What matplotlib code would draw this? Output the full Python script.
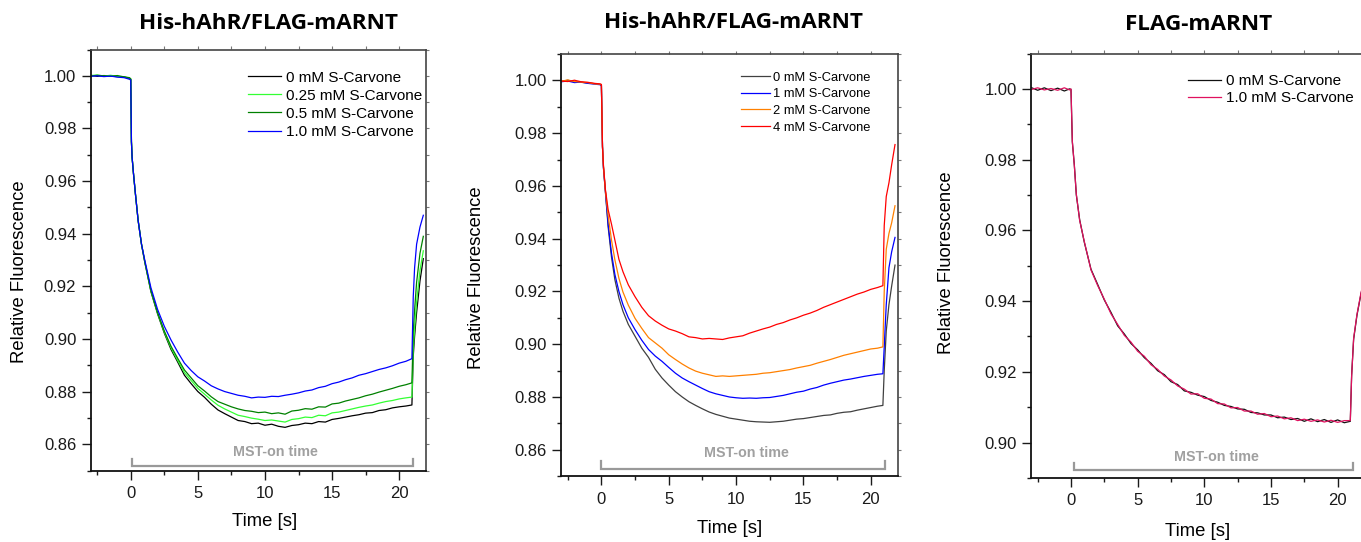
import matplotlib
matplotlib.use('Agg')
import matplotlib.pyplot as plt
from matplotlib.ticker import MultipleLocator, FormatStrFormatter

plt.rcParams['font.family'] = ['Liberation Sans', 'DejaVu Sans']

# ── Panel A: His-hAhR/FLAG-mARNT, 0 - 1.0 mM S-Carvone ──
t_a = [-3.0, -2.5, -2.0, -1.5, -1.0, -0.5, -0.1, 0.0,
       0.05, 0.1, 0.2, 0.35, 0.55, 0.8, 1.05, 1.5,
       2.0, 2.5, 3.0, 3.5, 4.0, 4.5, 5.0, 5.5, 6.0, 6.5,
       7.0, 7.5, 8.0, 8.5, 9.0, 9.5, 10.0, 10.5, 11.0, 11.5,
       12.0, 12.5, 13.0, 13.5, 14.0, 14.5, 15.0, 15.5, 16.0, 16.5,
       17.0, 17.5, 18.0, 18.5, 19.0, 19.5, 20.0, 20.5,
       20.95, 21.05, 21.15, 21.3, 21.55, 21.8]
a_0mM = [1.0002, 0.9998, 1.0001, 0.9999, 0.9997, 0.9996, 0.9990, 0.9987,
         0.975, 0.969, 0.963, 0.955, 0.945, 0.936, 0.9290, 0.9180,
         0.9095, 0.9022, 0.8960, 0.8912, 0.8862, 0.8830, 0.8800, 0.8778, 0.8752, 0.8730,
         0.8716, 0.8703, 0.8690, 0.8686, 0.8678, 0.8680, 0.8672, 0.8676, 0.8668, 0.8664,
         0.8671, 0.8674, 0.8680, 0.8678, 0.8686, 0.8684, 0.8694, 0.8698, 0.8703, 0.8708,
         0.8712, 0.8718, 0.8720, 0.8728, 0.8731, 0.8738, 0.8742, 0.8745,
         0.8749, 0.8935, 0.9010, 0.9100, 0.9220, 0.9305]
a_025mM = [1.0001, 1.0003, 0.9999, 1.0002, 0.9998, 0.9995, 0.9992, 0.9988,
           0.975, 0.969, 0.963, 0.955, 0.945, 0.936, 0.9292, 0.9183,
           0.9098, 0.9026, 0.8966, 0.8918, 0.8872, 0.8842, 0.8812, 0.8790, 0.8768, 0.8748,
           0.8734, 0.8722, 0.8710, 0.8705, 0.8699, 0.8695, 0.8690, 0.8692, 0.8688, 0.8684,
           0.8694, 0.8697, 0.8703, 0.8701, 0.8710, 0.8708, 0.8719, 0.8722, 0.8728, 0.8734,
           0.8740, 0.8745, 0.8749, 0.8756, 0.8762, 0.8766, 0.8772, 0.8776,
           0.8779, 0.8960, 0.9040, 0.9140, 0.9260, 0.9335]
a_05mM = [0.9999, 1.0002, 1.0000, 0.9998, 1.0001, 0.9996, 0.9993, 0.9988,
          0.975, 0.969, 0.963, 0.955, 0.945, 0.936, 0.9293, 0.9185,
          0.9100, 0.9030, 0.8972, 0.8926, 0.8882, 0.8852, 0.8822, 0.8802, 0.8780, 0.8762,
          0.8752, 0.8742, 0.8734, 0.8728, 0.8725, 0.8720, 0.8722, 0.8716, 0.8719, 0.8714,
          0.8726, 0.8729, 0.8735, 0.8733, 0.8742, 0.8741, 0.8753, 0.8756, 0.8764, 0.8770,
          0.8776, 0.8784, 0.8790, 0.8798, 0.8805, 0.8812, 0.8820, 0.8826,
          0.8833, 0.9030, 0.9110, 0.9215, 0.9325, 0.9390]
a_1mM = [0.9998, 1.0000, 0.9997, 0.9999, 0.9995, 0.9993, 0.9987, 0.9984,
         0.975, 0.969, 0.963, 0.955, 0.945, 0.936, 0.9298, 0.9195,
         0.9112, 0.9048, 0.8996, 0.8950, 0.8908, 0.8880, 0.8856, 0.8840, 0.8822, 0.8810,
         0.8800, 0.8793, 0.8786, 0.8782, 0.8776, 0.8779, 0.8778, 0.8782, 0.8781, 0.8786,
         0.8790, 0.8795, 0.8802, 0.8806, 0.8815, 0.8820, 0.8830, 0.8836, 0.8845, 0.8852,
         0.8862, 0.8868, 0.8876, 0.8884, 0.8890, 0.8898, 0.8908, 0.8915,
         0.8925, 0.9160, 0.9270, 0.9360, 0.9425, 0.9470]
labels_a = ['0 mM S-Carvone', '0.25 mM S-Carvone', '0.5 mM S-Carvone', '1.0 mM S-Carvone']
colors_a = ['#000000', '#33ff33', '#008000', '#0000ff']

# ── Panel B: His-hAhR/FLAG-mARNT, 0 - 4 mM S-Carvone ──
t_b = [-3.0, -2.5, -2.0, -1.5, -1.0, -0.5, -0.1, 0.0,
       0.08, 0.15, 0.3, 0.5, 0.75, 1.0, 1.3, 1.6,
       2.0, 2.5, 3.0, 3.5, 4.0, 4.5, 5.0, 5.5, 6.0, 6.5,
       7.0, 7.5, 8.0, 8.5, 9.0, 9.5, 10.0, 10.5, 11.0, 11.5,
       12.0, 12.5, 13.0, 13.5, 14.0, 14.5, 15.0, 15.5, 16.0, 16.5,
       17.0, 17.5, 18.0, 18.5, 19.0, 19.5, 20.0, 20.5,
       20.9, 21.0, 21.15, 21.35, 21.55, 21.8]
b_0mM = [0.9996, 1.0001, 0.9995, 0.9993, 0.9990, 0.9988, 0.9985, 0.9982,
         0.975, 0.967, 0.9575, 0.9445, 0.9330, 0.9245, 0.9175, 0.9125,
         0.9075, 0.9030, 0.8985, 0.8950, 0.8905, 0.8872, 0.8845, 0.8820, 0.8800, 0.8782,
         0.8768, 0.8755, 0.8743, 0.8734, 0.8727, 0.8720, 0.8716, 0.8712, 0.8708, 0.8706,
         0.8705, 0.8704, 0.8706, 0.8708, 0.8712, 0.8716, 0.8718, 0.8722, 0.8726, 0.8730,
         0.8732, 0.8738, 0.8742, 0.8744, 0.8750, 0.8755, 0.8760, 0.8765,
         0.8768, 0.8900, 0.9050, 0.9150, 0.9220, 0.9300]
b_1mM = [0.9995, 0.9998, 0.9992, 0.9994, 0.9989, 0.9986, 0.9984, 0.9980,
         0.975, 0.967, 0.9578, 0.9455, 0.9345, 0.9265, 0.9200, 0.9150,
         0.9100, 0.9055, 0.9015, 0.8980, 0.8955, 0.8935, 0.8912, 0.8890, 0.8872, 0.8858,
         0.8845, 0.8832, 0.8820, 0.8812, 0.8806, 0.8800, 0.8797, 0.8795, 0.8796, 0.8795,
         0.8797, 0.8798, 0.8802, 0.8806, 0.8812, 0.8818, 0.8822, 0.8830, 0.8836, 0.8845,
         0.8852, 0.8858, 0.8864, 0.8868, 0.8873, 0.8878, 0.8882, 0.8886,
         0.8888, 0.8990, 0.9150, 0.9290, 0.9350, 0.9405]
b_2mM = [0.9997, 1.0002, 0.9996, 0.9994, 0.9992, 0.9987, 0.9986, 0.9984,
         0.975, 0.9675, 0.958, 0.9488, 0.9395, 0.9320, 0.9250, 0.9198,
         0.9148, 0.9098, 0.9060, 0.9025, 0.9005, 0.8985, 0.8960, 0.8942, 0.8925, 0.8910,
         0.8898, 0.8890, 0.8884, 0.8878, 0.8880, 0.8878, 0.8880, 0.8882, 0.8884, 0.8886,
         0.8890, 0.8892, 0.8896, 0.8900, 0.8904, 0.8910, 0.8915, 0.8920, 0.8928, 0.8935,
         0.8942, 0.8950, 0.8958, 0.8964, 0.8970, 0.8976, 0.8982, 0.8985,
         0.8990, 0.9200, 0.9360, 0.9420, 0.9460, 0.9525]
b_4mM = [0.9998, 0.9996, 1.0001, 0.9995, 0.9993, 0.9989, 0.9987, 0.9985,
         0.975, 0.968, 0.9585, 0.951, 0.9455, 0.9395, 0.9322, 0.9275,
         0.9225, 0.9180, 0.9140, 0.9108, 0.9088, 0.9072, 0.9058, 0.9050, 0.9040, 0.9028,
         0.9025, 0.9020, 0.9022, 0.9020, 0.9018, 0.9024, 0.9028, 0.9032, 0.9042, 0.9050,
         0.9058, 0.9065, 0.9075, 0.9082, 0.9092, 0.9100, 0.9110, 0.9118, 0.9128, 0.9140,
         0.9150, 0.9160, 0.9170, 0.9180, 0.9190, 0.9198, 0.9208, 0.9215,
         0.9222, 0.9450, 0.9560, 0.9612, 0.9680, 0.9757]
labels_b = ['0 mM S-Carvone', '1 mM S-Carvone', '2 mM S-Carvone', '4 mM S-Carvone']
colors_b = ['#404040', '#0000ff', '#ff8000', '#ff0000']

# ── Panel C: FLAG-mARNT only ──
t_c = [-3.0, -2.5, -2.0, -1.5, -1.0, -0.5, -0.1, 0.0,
       0.1, 0.25, 0.4, 0.65, 1.0, 1.5,
       2.0, 2.5, 3.0, 3.5, 4.0, 4.5, 5.0, 5.5, 6.0, 6.5,
       7.0, 7.5, 8.0, 8.5, 9.0, 9.5, 10.0, 10.5, 11.0, 11.5,
       12.0, 12.5, 13.0, 13.5, 14.0, 14.5, 15.0, 15.5, 16.0, 16.5,
       17.0, 17.5, 18.0, 18.5, 19.0, 19.5, 20.0, 20.5,
       20.95, 21.05, 21.2, 21.45, 21.75, 22.0]
c_0mM = [1.0004, 0.9996, 1.0003, 0.9995, 1.0002, 0.9994, 1.0000, 0.9998,
         0.9850, 0.9785, 0.9700, 0.9630, 0.9566, 0.9490,
         0.9447, 0.9403, 0.9368, 0.9330, 0.9307, 0.9280, 0.9262, 0.9240, 0.9224, 0.9203,
         0.9192, 0.9172, 0.9164, 0.9146, 0.9142, 0.9134, 0.9130, 0.9119, 0.9114, 0.9105,
         0.9102, 0.9095, 0.9094, 0.9085, 0.9084, 0.9078, 0.9078, 0.9070, 0.9072, 0.9065,
         0.9068, 0.9060, 0.9067, 0.9059, 0.9065, 0.9057, 0.9064, 0.9056,
         0.9060, 0.9190, 0.9292, 0.9360, 0.9420, 0.9460]
c_1mM = [0.9998, 1.0003, 0.9997, 1.0001, 0.9996, 1.0003, 0.9997, 1.0000,
         0.9852, 0.9783, 0.9702, 0.9628, 0.9568, 0.9488,
         0.9444, 0.9405, 0.9364, 0.9334, 0.9303, 0.9284, 0.9258, 0.9244, 0.9220, 0.9207,
         0.9188, 0.9177, 0.9160, 0.9151, 0.9137, 0.9138, 0.9125, 0.9123, 0.9110, 0.9109,
         0.9098, 0.9099, 0.9089, 0.9089, 0.9080, 0.9082, 0.9073, 0.9075, 0.9067, 0.9070,
         0.9062, 0.9066, 0.9060, 0.9064, 0.9058, 0.9063, 0.9057, 0.9062,
         0.9062, 0.9188, 0.9295, 0.9362, 0.9423, 0.9462]
labels_c = ['0 mM S-Carvone', '1.0 mM S-Carvone']
colors_c = ['#111111', '#e0115f']

titles = ['His-hAhR/FLAG-mARNT', 'His-hAhR/FLAG-mARNT', 'FLAG-mARNT']
mst_span = [(0.12, 21.04), (0.0, 21.05), (0.23, 21.17)]

W, H = 1361, 542
fig = plt.figure(figsize=(W / 100, H / 100), dpi=100)
fig.patch.set_facecolor('white')


def px_axes(left, top, right, bottom):
    return fig.add_axes([left / W, 1 - bottom / H, (right - left) / W, (bottom - top) / H])


panels = [
    dict(box=(90.5, 49.5, 426, 470.5), t=t_a, ys=[a_0mM, a_025mM, a_05mM, a_1mM],
         labels=labels_a, colors=colors_a, ylim=(0.85, 1.01),
         leg=dict(anchor=(0.469, 0.950), fs=11, hl=2.15, htp=0.33, ls=0.27),
         ylab=(-0.213, 0.473), xlab=(0.520, -0.120), title=(268.8, 23.5),
         mst=(0.0114, 0.028, 0.0432), mst_x=10.78),
    dict(box=(561, 54.1, 897.7, 476.1), t=t_b, ys=[b_0mM, b_1mM, b_2mM, b_4mM],
         labels=labels_b, colors=colors_b, ylim=(0.85, 1.01),
         leg=dict(anchor=(0.5346, 0.958), fs=9.3, hl=2.25, htp=0.26, ls=0.35),
         ylab=(-0.250, 0.470), xlab=(0.500, -0.123), title=(733.7, 23),
         mst=(0.018, 0.035, 0.0546), mst_x=10.74),
    dict(box=(1031, 53.5, 1364.3, 477.9), t=t_c, ys=[c_0mM, c_1mM],
         labels=labels_c, colors=colors_c, ylim=(0.89, 1.01),
         leg=dict(anchor=(0.470, 0.952), fs=11, hl=2.18, htp=0.33, ls=0.23),
         ylab=(-0.253, 0.508), xlab=(0.500, -0.126), title=(1198.3, 24),
         mst=(0.018, 0.035, 0.049), mst_x=10.9),
]

for i, p in enumerate(panels):
    ax = px_axes(*p['box'])
    lines = []
    for y, lab, col in zip(p['ys'], p['labels'], p['colors']):
        ln, = ax.plot(p['t'], y, color=col, lw=0.9, label=lab)
        lines.append(ln)

    ax.set_xlim(-3, 22)
    ax.set_ylim(*p['ylim'])
    ax.xaxis.set_major_locator(MultipleLocator(5))
    ax.xaxis.set_minor_locator(MultipleLocator(2.5))
    ax.yaxis.set_major_locator(MultipleLocator(0.02))
    ax.yaxis.set_minor_locator(MultipleLocator(0.01))
    ax.yaxis.set_major_formatter(FormatStrFormatter('%.2f'))
    ax.set_xticks([0, 5, 10, 15, 20])
    ax.tick_params(which='major', direction='out', length=6.2, width=1.0,
                   labelsize=12, pad=5, colors='#1a1a1a')
    ax.tick_params(which='minor', direction='out', length=3.1, width=1.0, colors='#1a1a1a')
    ax.tick_params(axis='y', which='major', pad=4)
    for side in ['left', 'bottom']:
        ax.spines[side].set_linewidth(1.3)
        ax.spines[side].set_color('#111111')
    for side in ['top', 'right']:
        ax.spines[side].set_linewidth(1.2)
        ax.spines[side].set_color('#444444')

    # short mirrored ticks on top/right
    sx = ax.secondary_xaxis('top')
    sx.set_xticks([0, 5, 10, 15, 20])
    sx.xaxis.set_minor_locator(MultipleLocator(2.5))
    sx.tick_params(which='both', direction='out', length=2.2, width=0.8,
                   labeltop=False, colors='#777777')
    sx.spines['top'].set_visible(False)
    sy = ax.secondary_yaxis('right')
    sy.yaxis.set_major_locator(MultipleLocator(0.02))
    sy.yaxis.set_minor_locator(MultipleLocator(0.01))
    sy.tick_params(which='both', direction='out', length=2.2, width=0.8,
                   labelright=False, colors='#777777')
    sy.spines['right'].set_visible(False)

    ax.set_ylabel('Relative Fluorescence', fontsize=13.3, va='center')
    ax.yaxis.set_label_coords(*p['ylab'])
    ax.set_xlabel('Time [s]', fontsize=13.3, va='center')
    ax.xaxis.set_label_coords(*p['xlab'])

    lg = p['leg']
    ax.legend(handles=lines, loc='upper left', bbox_to_anchor=lg['anchor'],
              frameon=False, borderpad=0, borderaxespad=0,
              handlelength=lg['hl'], handletextpad=lg['htp'],
              labelspacing=lg['ls'], prop={'size': lg['fs']})

    # MST-on time bracket
    x0, x1 = mst_span[i]
    yb, yt, ytxt = p['mst']
    tr = ax.get_xaxis_transform()
    ax.plot([x0, x0, x1, x1], [yt, yb, yb, yt], transform=tr,
            color='#999999', lw=1.6, solid_joinstyle='miter', clip_on=False)
    ax.text(p['mst_x'], ytxt, 'MST-on time', transform=tr, ha='center', va='center',
            fontsize=10.3, fontweight='bold', color='#a0a0a0')

    tx, ty = p['title']
    fig.text(tx / W, 1 - ty / H, titles[i], ha='center', va='center',
             fontsize=16.2, fontweight='bold', family=['Open Sans', 'DejaVu Sans'])

fig.savefig('out.png', dpi=100, facecolor='white')
